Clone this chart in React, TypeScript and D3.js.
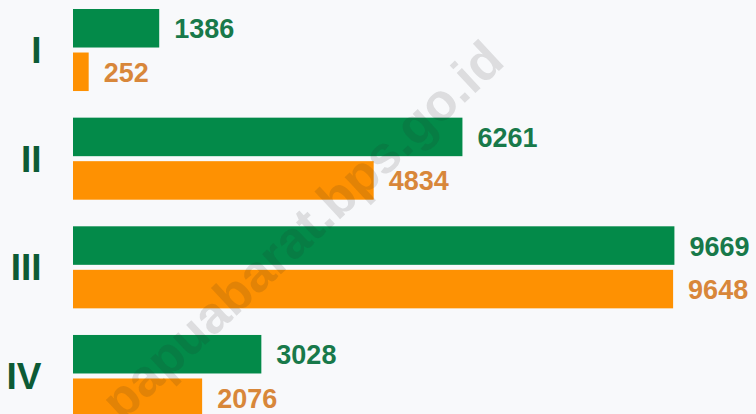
import * as d3 from 'd3';
import React, { useEffect, useRef } from 'react';

const categories = ['I', 'II', 'III', 'IV'];
const greenValues = [1386, 6261, 9669, 3028];
const orangeValues = [252, 4834, 9648, 2076];
const seriesKeys = ['green', 'orange'];

const width = 756;
const height = 414;

const barColor: { [key: string]: string } = { green: '#038a49', orange: '#fe9102' };
const labelColor: { [key: string]: string } = { green: '#18794a', orange: '#d8873a' };

interface Entry {
    cat: string;
    key: string;
    value: number;
}

export default function App() {
    const ref = useRef<SVGGElement>(null);

    useEffect(() => {
        const node = ref.current;
        const g = d3.select(node);
        g.selectAll('*').remove();

        const x = d3.scaleLinear().domain([0, 10000]).range([73, 695]);
        const y = d3.scaleBand<string>()
            .domain(categories)
            .range([9, 417])
            .paddingInner(0.245)
            .paddingOuter(0);
        const sub = d3.scaleBand<string>()
            .domain(seriesKeys)
            .range([0, y.bandwidth()])
            .paddingInner(0.115);

        const entries: Entry[] = [];
        categories.forEach((cat, i) => {
            entries.push({ cat, key: 'green', value: greenValues[i] });
            entries.push({ cat, key: 'orange', value: orangeValues[i] });
        });

        g.selectAll('rect.bar')
            .data(entries)
            .join('rect')
            .attr('class', 'bar')
            .attr('x', x(0))
            .attr('y', (d) => (y(d.cat) as number) + (sub(d.key) as number))
            .attr('width', (d) => x(d.value) - x(0))
            .attr('height', sub.bandwidth())
            .attr('fill', (d) => barColor[d.key]);

        g.selectAll('text.value')
            .data(entries)
            .join('text')
            .attr('class', 'value')
            .attr('x', (d) => x(d.value) + 15)
            .attr('y', (d) => (y(d.cat) as number) + (sub(d.key) as number) + sub.bandwidth() / 2 + 10)
            .attr('font-family', '"Liberation Sans", Arial, sans-serif')
            .attr('font-weight', 'bold')
            .attr('font-size', 27)
            .attr('fill', (d) => labelColor[d.key])
            .text((d) => d.value);

        g.selectAll('text.cat')
            .data(categories)
            .join('text')
            .attr('class', 'cat')
            .attr('x', 41.5)
            .attr('y', (d) => (y(d) as number) + y.bandwidth() / 2 + 13)
            .attr('text-anchor', 'end')
            .attr('font-family', '"Liberation Sans", Arial, sans-serif')
            .attr('font-weight', 'bold')
            .attr('font-size', 37)
            .attr('fill', '#0d5b35')
            .text((d) => d);

        // watermark over the bars, faint
        g.append('text')
            .attr('transform', 'translate(302,230) rotate(-43)')
            .attr('text-anchor', 'middle')
            .attr('dominant-baseline', 'central')
            .attr('font-family', '"Liberation Sans", Arial, sans-serif')
            .attr('font-weight', 'bold')
            .attr('font-size', 52)
            .attr('fill', 'rgba(40,40,40,0.13)')
            .text('papuabarat.bps.go.id');
    }, []);

    return (
        <svg
            width={width}
            height={height}
            style={{ position: 'absolute', left: 0, top: 0, background: '#f8f9fb' }}
        >
            <g ref={ref} />
        </svg>
    );
}
